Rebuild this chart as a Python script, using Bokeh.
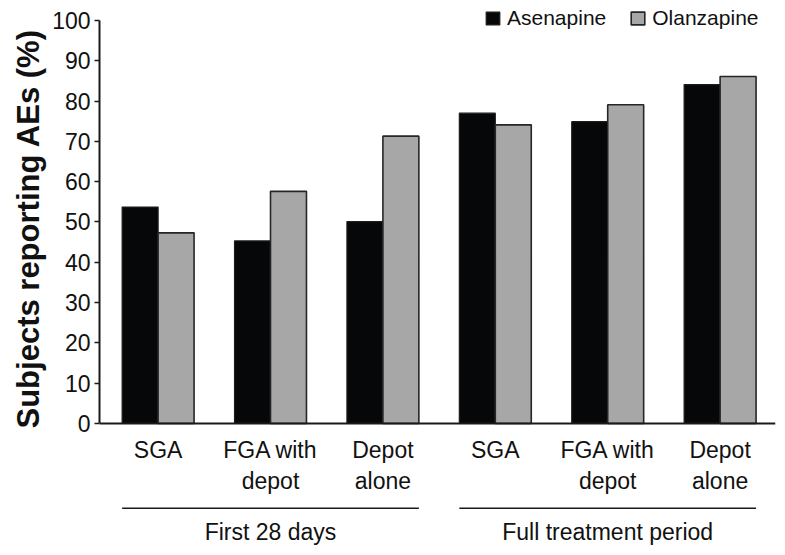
from bokeh.plotting import figure
from bokeh.models import Range1d, FixedTicker, Legend, LegendItem, ColumnDataSource, Title
from bokeh.core.properties import value
from bokeh.embed import file_html
from bokeh.resources import INLINE

# ---- data ----
categories = ["SGA", "FGA with\ndepot", "Depot\nalone", "SGA", "FGA with\ndepot", "Depot\nalone"]
asenapine = [53.7, 45.3, 50.1, 77.0, 74.9, 84.1]
olanzapine = [47.3, 57.6, 71.3, 74.1, 79.1, 86.1]
groups = ["First 28 days", "Full treatment period"]
group_members = [[0, 1, 2], [3, 4, 5]]
y_ticks = [0, 10, 20, 30, 40, 50, 60, 70, 80, 90, 100]
series_names = ["Asenapine", "Olanzapine"]
y_title = "Subjects reporting AEs (%)"

FONT = "Liberation Sans"
W, H = 777, 547
BW = 0.32
X0, X1 = 0.4786, 6.4929
Y0, Y1 = -30.77, 104.96

xs = [i + 1 for i in range(len(categories))]

p = figure(width=W, height=H, output_backend="svg", toolbar_location=None,
           x_range=Range1d(X0, X1), y_range=Range1d(Y0, Y1),
           min_border_left=99, min_border_right=2, min_border_top=0, min_border_bottom=0)
p.xaxis.visible = False
p.xgrid.visible = False
p.ygrid.visible = False
p.outline_line_color = None

ya = p.yaxis[0]
ya.bounds = (0, 100)
ya.ticker = FixedTicker(ticks=y_ticks)
ya.minor_tick_line_color = None
ya.major_tick_in = 0
ya.major_tick_out = 5
ya.major_tick_line_width = 1.5
ya.axis_line_width = 2
ya.axis_line_color = "#1a1a1a"
ya.major_tick_line_color = "#1a1a1a"
ya.major_label_text_font = FONT
ya.major_label_text_font_size = "23px"
ya.major_label_text_color = "#111111"
ya.major_label_standoff = 4

src = ColumnDataSource(dict(
    xa=[x - BW / 2 for x in xs], xo=[x + BW / 2 for x in xs],
    a=asenapine, o=olanzapine))
ra = p.vbar(x="xa", top="a", bottom=0, width=BW, source=src,
            fill_color="#060708", line_color="#1c1c1c", line_width=1.2)
ro = p.vbar(x="xo", top="o", bottom=0, width=BW, source=src,
            fill_color="#a7a7a7", line_color="#262626", line_width=1.6)

# x axis baseline
p.segment(x0=[X0], y0=[0], x1=[X1], y1=[0], line_color="#1a1a1a", line_width=2)

# category labels (two lines)
line1 = [c.split("\n")[0] for c in categories]
line2 = [c.split("\n")[1] if "\n" in c else "" for c in categories]
p.text(x=xs, y=[-6.6] * len(xs), text=line1, text_align="center", text_baseline="alphabetic",
       text_font=value(FONT), text_font_size="23px", text_color="#111111")
p.text(x=xs, y=[-14.3] * len(xs), text=line2, text_align="center", text_baseline="alphabetic",
       text_font=value(FONT), text_font_size="23px", text_color="#111111")

# group brackets and labels
gx0 = [xs[m[0]] - BW for m in group_members]
gx1 = [xs[m[-1]] + BW for m in group_members]
gxc = [(xs[m[0]] + xs[m[-1]]) / 2 for m in group_members]
p.segment(x0=gx0, y0=[-21.0] * 2, x1=gx1, y1=[-21.0] * 2, line_color="#1a1a1a", line_width=1.5)
p.text(x=gxc, y=[-26.8] * 2, text=groups, text_align="center", text_baseline="alphabetic",
       text_font=value(FONT), text_font_size="23px", text_color="#111111")

# y axis title
p.add_layout(Title(text=y_title, align="left", offset=119, standoff=8,
                   text_font=FONT, text_font_style="bold", text_font_size="31px",
                   text_color="#111111"), "left")

legend = Legend(items=[LegendItem(label=series_names[0], renderers=[ra]),
                       LegendItem(label=series_names[1], renderers=[ro])],
                orientation="horizontal", location=(385, 517),
                glyph_width=17, glyph_height=16, label_standoff=6, spacing=23,
                padding=0, margin=0, border_line_color=None, background_fill_alpha=0,
                label_text_font=FONT, label_text_font_size="21px", label_text_color="#111111")
p.add_layout(legend, "center")

open("out.html", "w").write(file_html(p, INLINE))
